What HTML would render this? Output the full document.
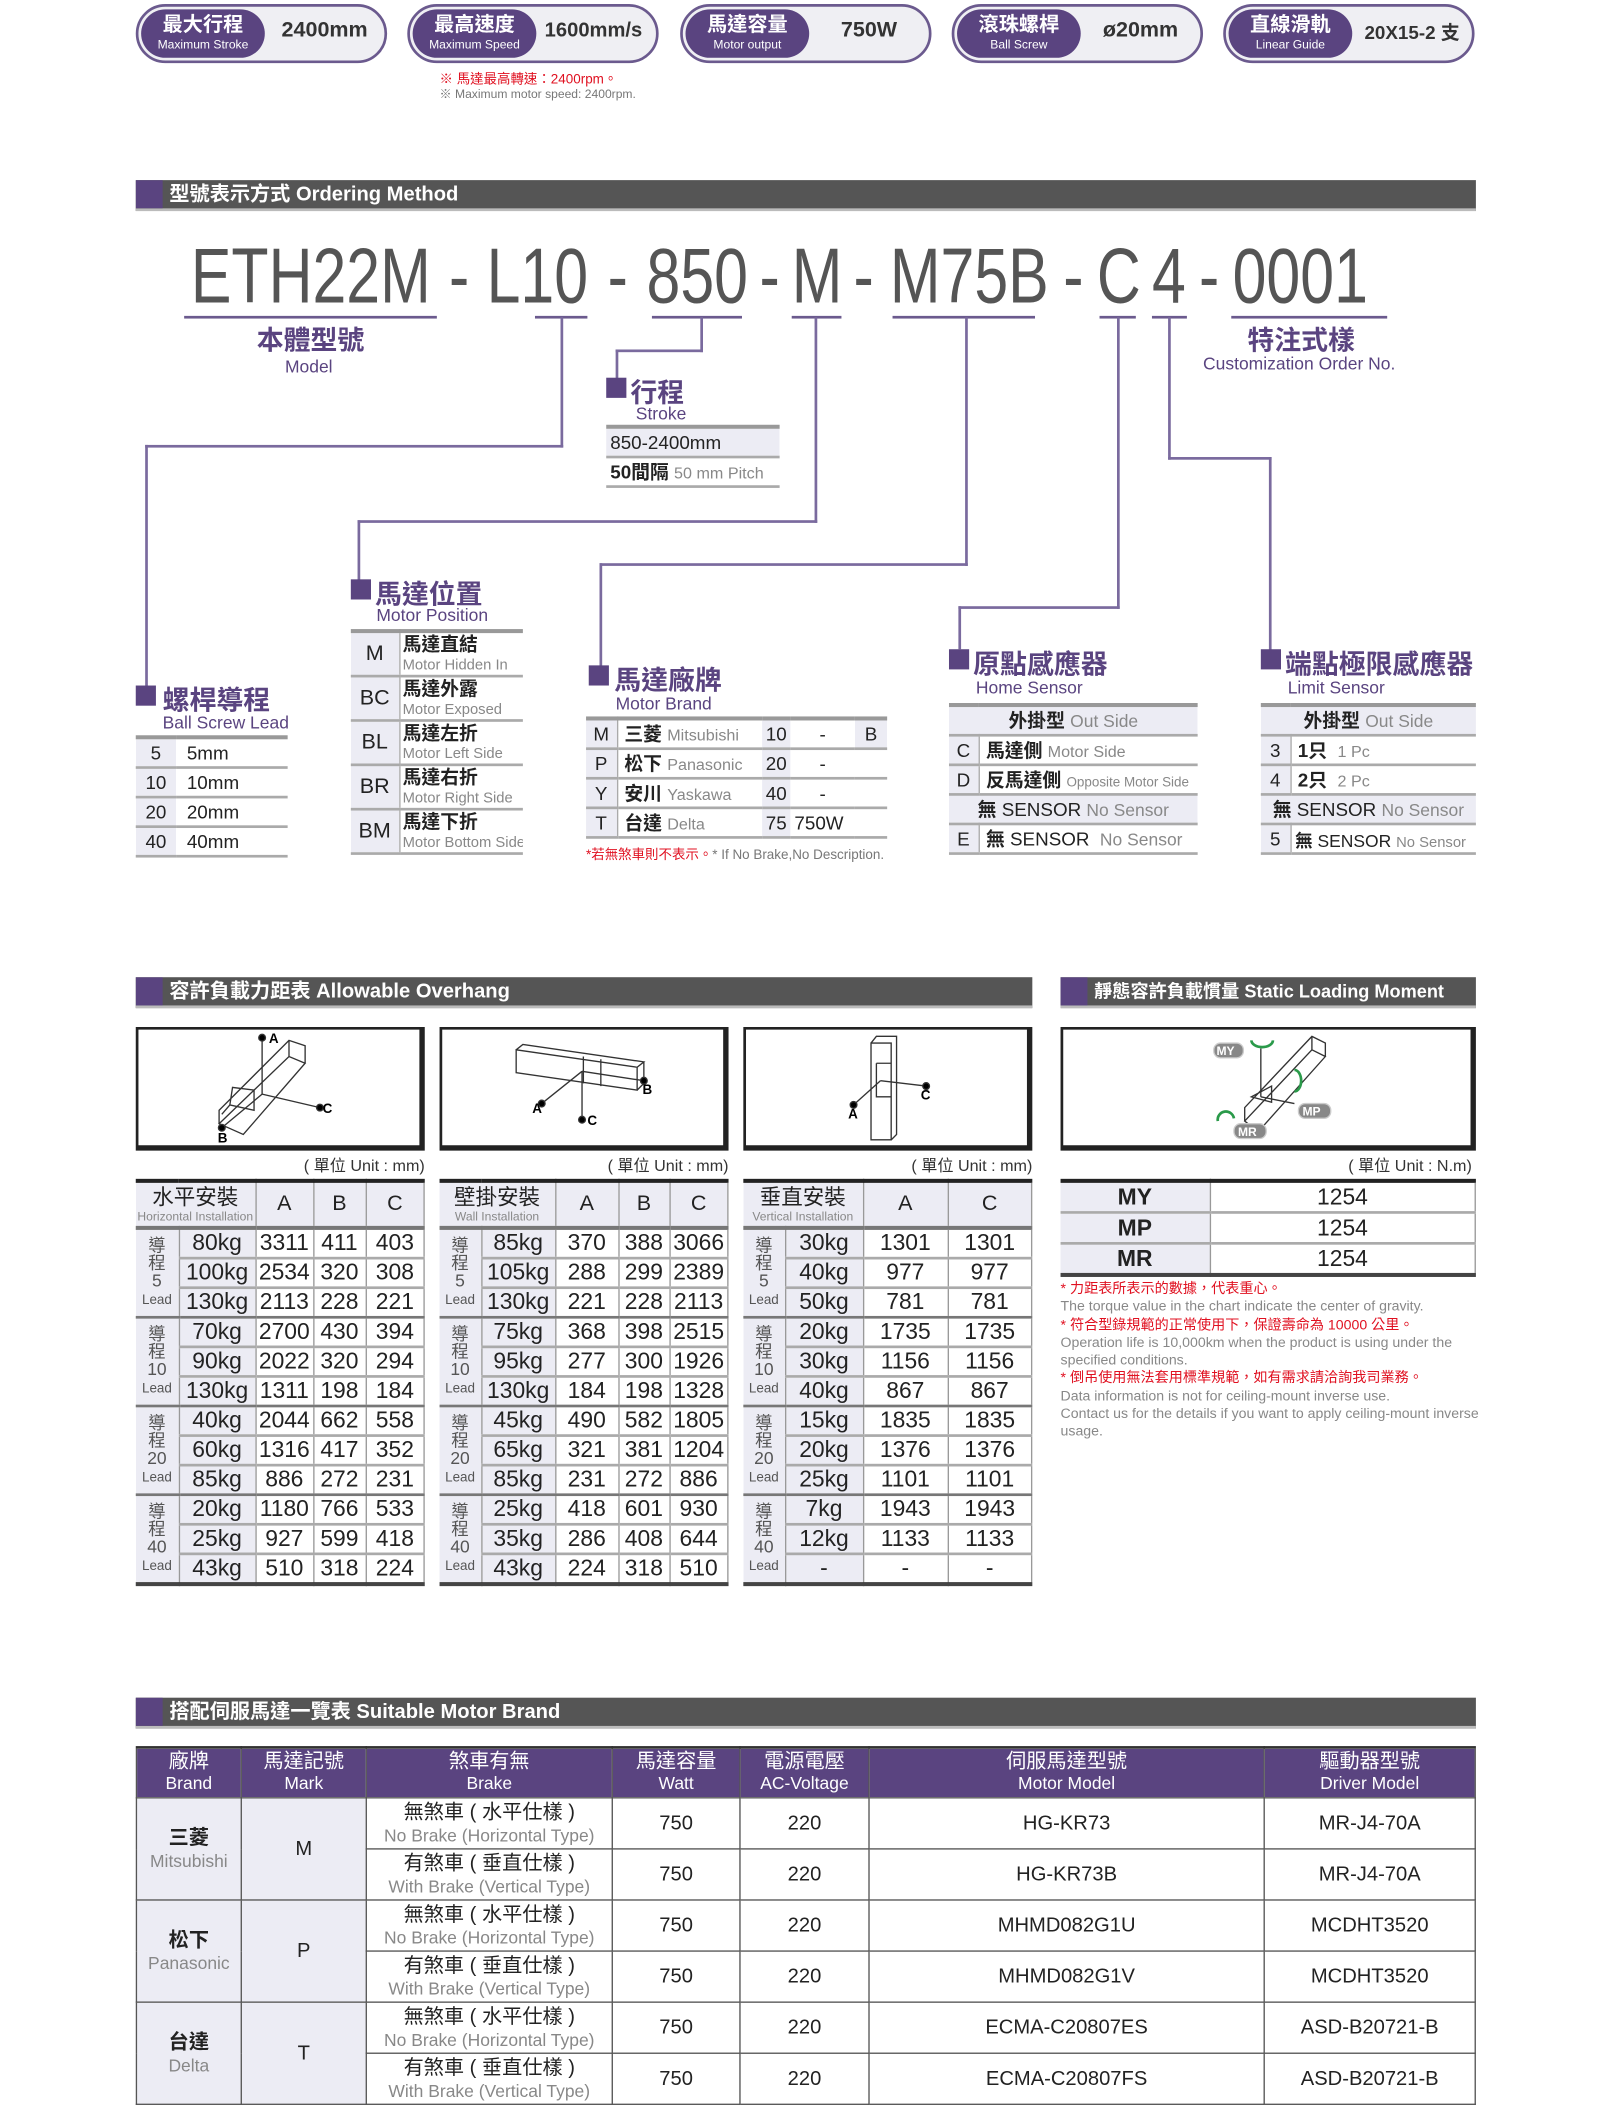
<!DOCTYPE html>
<html><head><meta charset="utf-8">
<style>
html,body{margin:0;padding:0;background:#fff;width:1613px;height:2107px;overflow:hidden}
#s{position:absolute;left:0;top:0;width:1200px;height:1568px;transform:scale(1.34417);transform-origin:0 0;font-family:"Liberation Sans","Noto Sans CJK TC",sans-serif;color:#333}
.a{position:absolute}
.pill{position:absolute;top:3px;width:183px;height:40px;border:2px solid #6b5a8e;border-radius:22px;background:#efeff3}
.pin{position:absolute;left:2px;top:2px;width:92px;height:36px;border-radius:18px;background:#5a4480;color:#fff;text-align:center}
.pin b{display:block;font-size:15px;line-height:19px;margin-top:2px}
.pin i{display:block;font-style:normal;font-size:9px;line-height:11px}
.pv{position:absolute;left:96px;right:2px;top:9px;text-align:center;font-weight:bold;font-size:16px;color:#333}
.bar{position:absolute;height:21px;background:#555;border-bottom:2px solid #bbb;color:#fff;font-weight:bold;font-size:15px;line-height:21px;overflow:hidden}
.bar:before{content:"";position:absolute;left:0;top:0;width:20px;height:21px;background:#5a4480}
.bar span{position:absolute;left:25px;top:0;white-space:nowrap}
.code{position:absolute;top:172px;font-size:58px;color:#555;transform:scaleX(.78);transform-origin:0 0;white-space:nowrap}
.ln{position:absolute;background:#7a6a9e}
.ul{position:absolute;top:235px;height:2px;background:#6b5a8e}
.mk{position:absolute;width:15px;height:15px;background:#5a4480}
.tt{position:absolute;font-size:20px;font-weight:bold;color:#5a4480;white-space:nowrap}
.te{position:absolute;font-size:13px;color:#5a4480;white-space:nowrap}
table{border-collapse:collapse;table-layout:fixed;position:absolute}
td{padding:0;overflow:hidden;white-space:nowrap}
.t1 td{border-bottom:2px solid #aaa;height:20px;font-size:14px;color:#222}
.t1{border-top:3px solid #999}
.lv{background:#ececf4}
.g{color:#888;font-size:12px}
.box{position:absolute;top:764px;height:86px;border:2px solid #222;border-right-width:4px;border-bottom-width:4px;background:#fff}
.unit{position:absolute;top:858px;font-size:12px;color:#333;text-align:right}
.ov{border-top:3px solid #222;border-bottom:3px solid #444}
.ov td{text-align:center;font-size:17px;color:#222;height:20px;border-bottom:2px solid #aaa;border-right:1px solid #999}
.ov tr.h td{height:32px;background:#ececf4;font-size:16px;border-bottom:3px solid #777}
.ov td.ld{background:#ececf4;font-size:13px;line-height:13px;color:#555;border-bottom:2px solid #777;white-space:normal}
.ov td.kg{background:#ececf4}
.ov tr.e td{border-bottom:2px solid #777}
.hh{font-size:16px;line-height:17px}.hh small{display:block;font-size:9px;color:#888;line-height:10px}
.bt{border-top:2px solid #333}
.bt td{border:1px solid #555;text-align:center;font-size:15px;color:#222;height:37px;line-height:17px}
.bt tr.h td{background:#5a4480;color:#fff;font-size:15px;height:36px;line-height:16px}
.bt small{display:block;font-size:13px;color:#888}
.bt tr.h small{color:#fff;font-size:13px}
</style></head><body><div id="s">

<div class="pill" style="left:101px"><div class="pin"><b>最大行程</b><i>Maximum Stroke</i></div><div class="pv">2400mm</div></div>
<div class="pill" style="left:303px"><div class="pin"><b>最高速度</b><i>Maximum Speed</i></div><div class="pv" style="font-size:15px;left:92px">1600mm/s</div></div>
<div class="pill" style="left:506px"><div class="pin"><b>馬達容量</b><i>Motor output</i></div><div class="pv">750W</div></div>
<div class="pill" style="left:708px"><div class="pin"><b>滾珠螺桿</b><i>Ball Screw</i></div><div class="pv">ø20mm</div></div>
<div class="pill" style="left:910px"><div class="pin"><b>直線滑軌</b><i>Linear Guide</i></div><div class="pv" style="font-size:14px">20X15-2 支</div></div>
<div class="a" style="left:327px;top:50px;font-size:10px;color:#e01020">※ 馬達最高轉速：2400rpm。</div>
<div class="a" style="left:327px;top:63px;font-size:9px;color:#777">※ Maximum motor speed: 2400rpm.</div>

<div class="bar" style="left:101px;top:134px;width:997px"><span>型號表示方式 Ordering Method</span></div>

<div class="code" style="left:142px">ETH22M</div>
<div class="code" style="left:334px">-</div>
<div class="code" style="left:362px">L10</div>
<div class="code" style="left:452px">-</div>
<div class="code" style="left:481px">850</div>
<div class="code" style="left:565px">-</div>
<div class="code" style="left:589px">M</div>
<div class="code" style="left:635px">-</div>
<div class="code" style="left:662px">M75B</div>
<div class="code" style="left:791px">-</div>
<div class="code" style="left:816px">C</div>
<div class="code" style="left:857px">4</div>
<div class="code" style="left:892px">-</div>
<div class="code" style="left:917px">0001</div>

<div class="ul" style="left:137px;width:188px"></div>
<div class="ul" style="left:398px;width:39px"></div>
<div class="ul" style="left:485px;width:67px"></div>
<div class="ul" style="left:589px;width:37px"></div>
<div class="ul" style="left:664px;width:106px"></div>
<div class="ul" style="left:818px;width:27px"></div>
<div class="ul" style="left:857px;width:26px"></div>
<div class="ul" style="left:916px;width:116px"></div>

<div class="tt" style="left:191px;top:237px">本體型號</div>
<div class="te" style="left:212px;top:265px">Model</div>
<div class="tt" style="left:928px;top:237px">特注式樣</div>
<div class="te" style="left:895px;top:263px">Customization Order No.</div>

<div class="ln" style="left:417px;top:236px;width:2px;height:97px"></div>
<div class="ln" style="left:108px;top:331px;width:311px;height:2px"></div>
<div class="ln" style="left:108px;top:331px;width:2px;height:180px"></div>

<div class="ln" style="left:521px;top:236px;width:2px;height:26px"></div>
<div class="ln" style="left:458px;top:260px;width:65px;height:2px"></div>
<div class="ln" style="left:458px;top:260px;width:2px;height:22px"></div>

<div class="ln" style="left:606px;top:236px;width:2px;height:153px"></div>
<div class="ln" style="left:266px;top:387px;width:342px;height:2px"></div>
<div class="ln" style="left:266px;top:387px;width:2px;height:45px"></div>

<div class="ln" style="left:718px;top:236px;width:2px;height:185px"></div>
<div class="ln" style="left:446px;top:419px;width:274px;height:2px"></div>
<div class="ln" style="left:446px;top:419px;width:2px;height:77px"></div>

<div class="ln" style="left:831px;top:236px;width:2px;height:217px"></div>
<div class="ln" style="left:713px;top:451px;width:120px;height:2px"></div>
<div class="ln" style="left:713px;top:451px;width:2px;height:32px"></div>

<div class="ln" style="left:869px;top:236px;width:2px;height:106px"></div>
<div class="ln" style="left:869px;top:340px;width:77px;height:2px"></div>
<div class="ln" style="left:944px;top:340px;width:2px;height:144px"></div>

<div class="mk" style="left:451px;top:281px"></div>
<div class="tt" style="left:469px;top:276px">行程</div>
<div class="te" style="left:473px;top:300px">Stroke</div>
<table class="t1" style="left:451px;top:316px;width:129px"><tr><td class="lv" style="padding-left:3px">850-2400mm</td></tr><tr><td style="padding-left:3px"><b>50間隔</b> <span class="g">50 mm Pitch</span></td></tr></table>

<div class="mk" style="left:101px;top:510px"></div>
<div class="tt" style="left:121px;top:505px">螺桿導程</div>
<div class="te" style="left:121px;top:530px">Ball Screw Lead</div>
<table class="t1" style="left:101px;top:547px;width:113px"><col style="width:30px"><col>
<tr><td class="lv" style="text-align:center">5</td><td style="padding-left:8px">5mm</td></tr>
<tr><td class="lv" style="text-align:center">10</td><td style="padding-left:8px">10mm</td></tr>
<tr><td class="lv" style="text-align:center">20</td><td style="padding-left:8px">20mm</td></tr>
<tr><td class="lv" style="text-align:center">40</td><td style="padding-left:8px">40mm</td></tr></table>

<div class="mk" style="left:261px;top:431px"></div>
<div class="tt" style="left:279px;top:426px">馬達位置</div>
<div class="te" style="left:280px;top:450px">Motor Position</div>
<table class="t1" style="left:261px;top:468px;width:128px"><col style="width:36px"><col>
<tr><td class="lv" style="height:31px;text-align:center;font-size:16px">M</td><td style="line-height:14px;padding-left:2px;border-left:1px solid #aaa"><b>馬達直結</b><br><span class="g" style="font-size:11px">Motor Hidden In</span></td></tr>
<tr><td class="lv" style="height:31px;text-align:center;font-size:16px">BC</td><td style="line-height:14px;padding-left:2px;border-left:1px solid #aaa"><b>馬達外露</b><br><span class="g" style="font-size:11px">Motor Exposed</span></td></tr>
<tr><td class="lv" style="height:31px;text-align:center;font-size:16px">BL</td><td style="line-height:14px;padding-left:2px;border-left:1px solid #aaa"><b>馬達左折</b><br><span class="g" style="font-size:11px">Motor Left Side</span></td></tr>
<tr><td class="lv" style="height:31px;text-align:center;font-size:16px">BR</td><td style="line-height:14px;padding-left:2px;border-left:1px solid #aaa"><b>馬達右折</b><br><span class="g" style="font-size:11px">Motor Right Side</span></td></tr>
<tr><td class="lv" style="height:31px;text-align:center;font-size:16px">BM</td><td style="line-height:14px;padding-left:2px;border-left:1px solid #aaa"><b>馬達下折</b><br><span class="g" style="font-size:11px">Motor Bottom Side</span></td></tr></table>

<div class="mk" style="left:438px;top:495px"></div>
<div class="tt" style="left:457px;top:490px">馬達廠牌</div>
<div class="te" style="left:458px;top:516px">Motor Brand</div>
<table class="t1" style="left:436px;top:533px;width:224px"><col style="width:23px"><col style="width:108px"><col style="width:21px"><col style="width:48px"><col>
<tr><td class="lv" style="text-align:center">M</td><td style="padding-left:5px;border-left:1px solid #aaa"><b>三菱</b> <span class="g">Mitsubishi</span></td><td class="lv" style="text-align:center">10</td><td style="text-align:center">-</td><td class="lv" style="text-align:center">B</td></tr>
<tr><td class="lv" style="text-align:center">P</td><td style="padding-left:5px;border-left:1px solid #aaa"><b>松下</b> <span class="g">Panasonic</span></td><td class="lv" style="text-align:center">20</td><td style="text-align:center">-</td><td></td></tr>
<tr><td class="lv" style="text-align:center">Y</td><td style="padding-left:5px;border-left:1px solid #aaa"><b>安川</b> <span class="g">Yaskawa</span></td><td class="lv" style="text-align:center">40</td><td style="text-align:center">-</td><td></td></tr>
<tr><td class="lv" style="text-align:center">T</td><td style="padding-left:5px;border-left:1px solid #aaa"><b>台達</b> <span class="g">Delta</span></td><td class="lv" style="text-align:center">75</td><td style="padding-left:3px">750W</td><td></td></tr></table>
<div class="a" style="left:436px;top:627px;font-size:10px;white-space:nowrap"><span style="color:#e01020">*若無煞車則不表示。</span><span style="color:#777">* If No Brake,No Description.</span></div>

<div class="mk" style="left:706px;top:483px"></div>
<div class="tt" style="left:724px;top:478px">原點感應器</div>
<div class="te" style="left:726px;top:504px">Home Sensor</div>
<table class="t1" style="left:706px;top:523px;width:185px"><col style="width:22px"><col>
<tr><td colspan="2" class="lv" style="text-align:center"><b>外掛型</b> <span class="g" style="font-size:13px">Out Side</span></td></tr>
<tr><td class="lv" style="text-align:center">C</td><td style="padding-left:5px;border-left:1px solid #aaa"><b>馬達側</b> <span class="g">Motor Side</span></td></tr>
<tr><td class="lv" style="text-align:center">D</td><td style="padding-left:5px;border-left:1px solid #aaa"><b>反馬達側</b> <span class="g" style="font-size:10px">Opposite Motor Side</span></td></tr>
<tr><td colspan="2" class="lv" style="text-align:center"><b>無</b> SENSOR <span class="g" style="font-size:13px">No Sensor</span></td></tr>
<tr><td class="lv" style="text-align:center">E</td><td style="padding-left:5px;border-left:1px solid #aaa"><b>無</b> SENSOR &nbsp;<span class="g" style="font-size:13px">No Sensor</span></td></tr></table>

<div class="mk" style="left:938px;top:483px"></div>
<div class="tt" style="left:956px;top:478px">端點極限感應器</div>
<div class="te" style="left:958px;top:504px">Limit Sensor</div>
<table class="t1" style="left:938px;top:523px;width:160px"><col style="width:22px"><col>
<tr><td colspan="2" class="lv" style="text-align:center"><b>外掛型</b> <span class="g" style="font-size:13px">Out Side</span></td></tr>
<tr><td class="lv" style="text-align:center">3</td><td style="padding-left:5px;border-left:1px solid #aaa"><b>1只</b> &nbsp;<span class="g">1 Pc</span></td></tr>
<tr><td class="lv" style="text-align:center">4</td><td style="padding-left:5px;border-left:1px solid #aaa"><b>2只</b> &nbsp;<span class="g">2 Pc</span></td></tr>
<tr><td colspan="2" class="lv" style="text-align:center"><b>無</b> SENSOR <span class="g" style="font-size:13px">No Sensor</span></td></tr>
<tr><td class="lv" style="text-align:center">5</td><td style="padding-left:3px;border-left:1px solid #aaa;font-size:13px"><b>無</b> SENSOR <span class="g" style="font-size:11px">No Sensor</span></td></tr></table>

<div class="bar" style="left:101px;top:727px;width:667px"><span>容許負載力距表 Allowable Overhang</span></div>
<div class="bar" style="left:789px;top:727px;width:309px"><span style="font-size:13.5px">靜態容許負載慣量 Static Loading Moment</span></div>

<div class="box" style="left:101px;width:209px"><svg width="209" height="86" fill="none" stroke="#333" stroke-width="1">
<path d="M60 70 L112 20 L124 25 L78 78 Z M60 70 L60 60 L112 8 L124 12 L124 25 M112 8 L112 20 M68 56 L86 60 L86 45 L70 43 Z M62 63 L68 56"/>
<line x1="92" y1="4" x2="92" y2="48"/><line x1="92" y1="48" x2="135" y2="58"/><line x1="92" y1="48" x2="62" y2="73"/>
<circle cx="92" cy="6" r="2.5" fill="#000"/><circle cx="135" cy="58" r="2.5" fill="#000"/><circle cx="62" cy="73" r="2.5" fill="#000"/>
<text x="97" y="10" font-size="10" font-weight="bold" fill="#000" stroke="none">A</text><text x="137" y="62" font-size="10" font-weight="bold" fill="#000" stroke="none">C</text><text x="59" y="84" font-size="10" font-weight="bold" fill="#000" stroke="none">B</text></svg></div>
<div class="box" style="left:327px;width:209px"><svg width="209" height="86" fill="none" stroke="#333" stroke-width="1">
<path d="M55 15 L55 32 L145 45 L145 28 Z M55 15 L60 11 L150 24 L145 28 M150 24 L150 40 L145 45 M118 22 L118 42 M105 20 L105 40"/>
<line x1="104" y1="31" x2="74" y2="55"/><line x1="104" y1="31" x2="104" y2="67"/><line x1="104" y1="31" x2="150" y2="38"/>
<circle cx="74" cy="55" r="2.5" fill="#000"/><circle cx="104" cy="67" r="2.5" fill="#000"/><circle cx="150" cy="38" r="2.5" fill="#000"/>
<text x="67" y="62" font-size="10" font-weight="bold" fill="#000" stroke="none">A</text><text x="108" y="71" font-size="10" font-weight="bold" fill="#000" stroke="none">C</text><text x="149" y="48" font-size="10" font-weight="bold" fill="#000" stroke="none">B</text></svg></div>
<div class="box" style="left:553px;width:209px"><svg width="209" height="86" fill="none" stroke="#333" stroke-width="1">
<path d="M93 10 L93 82 L108 82 L108 10 Z M93 10 L97 5 L112 5 L112 78 L108 82 M97 25 L108 25 M97 25 L97 50 L108 50"/>
<line x1="100" y1="38" x2="80" y2="56"/><line x1="100" y1="38" x2="134" y2="42"/>
<circle cx="80" cy="56" r="2.5" fill="#000"/><circle cx="134" cy="42" r="2.5" fill="#000"/>
<text x="76" y="66" font-size="10" font-weight="bold" fill="#000" stroke="none">A</text><text x="130" y="52" font-size="10" font-weight="bold" fill="#000" stroke="none">C</text></svg></div>
<div class="box" style="left:789px;width:303px"><svg width="303" height="86" fill="none" stroke="#333" stroke-width="1">
<path d="M135 68 L185 15 L195 20 L145 76 Z M135 68 L135 58 L185 5 L195 10 L195 20 M185 5 L185 15 M140 50 L155 54 L155 42 Z"/>
<line x1="147" y1="14" x2="147" y2="50"/><line x1="147" y1="50" x2="172" y2="55"/>
<path d="M140 8 A8 5 0 1 0 156 8" stroke="#2a9a4a" stroke-width="2"/><path d="M172 30 A5 8 0 1 1 172 46" stroke="#2a9a4a" stroke-width="2"/><path d="M115 68 A6 6 0 1 1 127 66" stroke="#2a9a4a" stroke-width="2"/>
<rect x="112" y="10" width="22" height="11" rx="5" fill="#888" stroke="#ccc"/><text x="114" y="19" font-size="9" font-weight="bold" fill="#fff" stroke="none">MY</text>
<rect x="175" y="55" width="24" height="11" rx="5" fill="#888" stroke="#ccc"/><text x="178" y="64" font-size="9" font-weight="bold" fill="#fff" stroke="none">MP</text>
<rect x="127" y="70" width="24" height="11" rx="5" fill="#888" stroke="#ccc"/><text x="130" y="79" font-size="9" font-weight="bold" fill="#fff" stroke="none">MR</text></svg></div>

<div class="unit" style="left:101px;width:215px">( 單位 Unit : mm)</div>
<div class="unit" style="left:327px;width:215px">( 單位 Unit : mm)</div>
<div class="unit" style="left:553px;width:215px">( 單位 Unit : mm)</div>
<div class="unit" style="left:789px;width:306px">( 單位 Unit : N.m)</div>

<table class="ov" style="left:101px;top:877px;width:215px"><col style="width:32px"><col style="width:57px"><col style="width:43px"><col style="width:39px"><col>
<tr class="h"><td colspan="2" class="hh">水平安裝<small>Horizontal Installation</small></td><td>A</td><td>B</td><td>C</td></tr>
<tr><td rowspan="3" class="ld">導<br>程<br>5<br><small style="font-size:10px">Lead</small></td><td class="kg">80kg</td><td>3311</td><td>411</td><td>403</td></tr>
<tr><td class="kg">100kg</td><td>2534</td><td>320</td><td>308</td></tr>
<tr class="e"><td class="kg">130kg</td><td>2113</td><td>228</td><td>221</td></tr>
<tr><td rowspan="3" class="ld">導<br>程<br>10<br><small style="font-size:10px">Lead</small></td><td class="kg">70kg</td><td>2700</td><td>430</td><td>394</td></tr>
<tr><td class="kg">90kg</td><td>2022</td><td>320</td><td>294</td></tr>
<tr class="e"><td class="kg">130kg</td><td>1311</td><td>198</td><td>184</td></tr>
<tr><td rowspan="3" class="ld">導<br>程<br>20<br><small style="font-size:10px">Lead</small></td><td class="kg">40kg</td><td>2044</td><td>662</td><td>558</td></tr>
<tr><td class="kg">60kg</td><td>1316</td><td>417</td><td>352</td></tr>
<tr class="e"><td class="kg">85kg</td><td>886</td><td>272</td><td>231</td></tr>
<tr><td rowspan="3" class="ld">導<br>程<br>40<br><small style="font-size:10px">Lead</small></td><td class="kg">20kg</td><td>1180</td><td>766</td><td>533</td></tr>
<tr><td class="kg">25kg</td><td>927</td><td>599</td><td>418</td></tr>
<tr class="e"><td class="kg">43kg</td><td>510</td><td>318</td><td>224</td></tr></table>

<table class="ov" style="left:327px;top:877px;width:215px"><col style="width:31px"><col style="width:55px"><col style="width:47px"><col style="width:38px"><col>
<tr class="h"><td colspan="2" class="hh">壁掛安裝<small>Wall Installation</small></td><td>A</td><td>B</td><td>C</td></tr>
<tr><td rowspan="3" class="ld">導<br>程<br>5<br><small style="font-size:10px">Lead</small></td><td class="kg">85kg</td><td>370</td><td>388</td><td>3066</td></tr>
<tr><td class="kg">105kg</td><td>288</td><td>299</td><td>2389</td></tr>
<tr class="e"><td class="kg">130kg</td><td>221</td><td>228</td><td>2113</td></tr>
<tr><td rowspan="3" class="ld">導<br>程<br>10<br><small style="font-size:10px">Lead</small></td><td class="kg">75kg</td><td>368</td><td>398</td><td>2515</td></tr>
<tr><td class="kg">95kg</td><td>277</td><td>300</td><td>1926</td></tr>
<tr class="e"><td class="kg">130kg</td><td>184</td><td>198</td><td>1328</td></tr>
<tr><td rowspan="3" class="ld">導<br>程<br>20<br><small style="font-size:10px">Lead</small></td><td class="kg">45kg</td><td>490</td><td>582</td><td>1805</td></tr>
<tr><td class="kg">65kg</td><td>321</td><td>381</td><td>1204</td></tr>
<tr class="e"><td class="kg">85kg</td><td>231</td><td>272</td><td>886</td></tr>
<tr><td rowspan="3" class="ld">導<br>程<br>40<br><small style="font-size:10px">Lead</small></td><td class="kg">25kg</td><td>418</td><td>601</td><td>930</td></tr>
<tr><td class="kg">35kg</td><td>286</td><td>408</td><td>644</td></tr>
<tr class="e"><td class="kg">43kg</td><td>224</td><td>318</td><td>510</td></tr></table>

<table class="ov" style="left:553px;top:877px;width:215px"><col style="width:31px"><col style="width:58px"><col style="width:63px"><col>
<tr class="h"><td colspan="2" class="hh">垂直安裝<small>Vertical Installation</small></td><td>A</td><td>C</td></tr>
<tr><td rowspan="3" class="ld">導<br>程<br>5<br><small style="font-size:10px">Lead</small></td><td class="kg">30kg</td><td>1301</td><td>1301</td></tr>
<tr><td class="kg">40kg</td><td>977</td><td>977</td></tr>
<tr class="e"><td class="kg">50kg</td><td>781</td><td>781</td></tr>
<tr><td rowspan="3" class="ld">導<br>程<br>10<br><small style="font-size:10px">Lead</small></td><td class="kg">20kg</td><td>1735</td><td>1735</td></tr>
<tr><td class="kg">30kg</td><td>1156</td><td>1156</td></tr>
<tr class="e"><td class="kg">40kg</td><td>867</td><td>867</td></tr>
<tr><td rowspan="3" class="ld">導<br>程<br>20<br><small style="font-size:10px">Lead</small></td><td class="kg">15kg</td><td>1835</td><td>1835</td></tr>
<tr><td class="kg">20kg</td><td>1376</td><td>1376</td></tr>
<tr class="e"><td class="kg">25kg</td><td>1101</td><td>1101</td></tr>
<tr><td rowspan="3" class="ld">導<br>程<br>40<br><small style="font-size:10px">Lead</small></td><td class="kg">7kg</td><td>1943</td><td>1943</td></tr>
<tr><td class="kg">12kg</td><td>1133</td><td>1133</td></tr>
<tr class="e"><td class="kg">-</td><td>-</td><td>-</td></tr></table>

<table class="ov" style="left:789px;top:877px;width:309px"><col style="width:111px"><col>
<tr><td class="kg" style="font-weight:bold;height:21px">MY</td><td>1254</td></tr>
<tr><td class="kg" style="font-weight:bold;height:21px">MP</td><td>1254</td></tr>
<tr><td class="kg" style="font-weight:bold;height:21px;border-bottom:none">MR</td><td style="border-bottom:none">1254</td></tr></table>
<div class="a" style="left:789px;top:953px;width:312px;font-size:10.5px;line-height:13.3px;color:#888">
<span style="color:#e01020">* 力距表所表示的數據，代表重心。</span><br>The torque value in the chart indicate the center of gravity.<br>
<span style="color:#e01020">* 符合型錄規範的正常使用下，保證壽命為 10000 公里。</span><br>Operation life is 10,000km when the product is using under the specified conditions.<br>
<span style="color:#e01020">* 倒吊使用無法套用標準規範，如有需求請洽詢我司業務。</span><br>Data information is not for ceiling-mount inverse use.<br>Contact us for the details if you want to apply ceiling-mount inverse usage.</div>

<div class="bar" style="left:101px;top:1263px;width:997px"><span>搭配伺服馬達一覽表 Suitable Motor Brand</span></div>
<table class="bt" style="left:101px;top:1299px;width:997px"><col style="width:78px"><col style="width:93px"><col style="width:183px"><col style="width:95px"><col style="width:96px"><col style="width:294px"><col>
<tr class="h"><td>廠牌<small>Brand</small></td><td>馬達記號<small>Mark</small></td><td>煞車有無<small>Brake</small></td><td>馬達容量<small>Watt</small></td><td>電源電壓<small>AC-Voltage</small></td><td>伺服馬達型號<small>Motor Model</small></td><td>驅動器型號<small>Driver Model</small></td></tr>
<tr><td rowspan="2" class="lv"><b>三菱</b><small>Mitsubishi</small></td><td rowspan="2" class="lv">M</td><td>無煞車 ( 水平仕樣 )<small>No Brake (Horizontal Type)</small></td><td>750</td><td>220</td><td>HG-KR73</td><td>MR-J4-70A</td></tr>
<tr><td>有煞車 ( 垂直仕樣 )<small>With Brake (Vertical Type)</small></td><td>750</td><td>220</td><td>HG-KR73B</td><td>MR-J4-70A</td></tr>
<tr><td rowspan="2" class="lv"><b>松下</b><small>Panasonic</small></td><td rowspan="2" class="lv">P</td><td>無煞車 ( 水平仕樣 )<small>No Brake (Horizontal Type)</small></td><td>750</td><td>220</td><td>MHMD082G1U</td><td>MCDHT3520</td></tr>
<tr><td>有煞車 ( 垂直仕樣 )<small>With Brake (Vertical Type)</small></td><td>750</td><td>220</td><td>MHMD082G1V</td><td>MCDHT3520</td></tr>
<tr><td rowspan="2" class="lv"><b>台達</b><small>Delta</small></td><td rowspan="2" class="lv">T</td><td>無煞車 ( 水平仕樣 )<small>No Brake (Horizontal Type)</small></td><td>750</td><td>220</td><td>ECMA-C20807ES</td><td>ASD-B20721-B</td></tr>
<tr><td>有煞車 ( 垂直仕樣 )<small>With Brake (Vertical Type)</small></td><td>750</td><td>220</td><td>ECMA-C20807FS</td><td>ASD-B20721-B</td></tr>
</table>

</div></body></html>
